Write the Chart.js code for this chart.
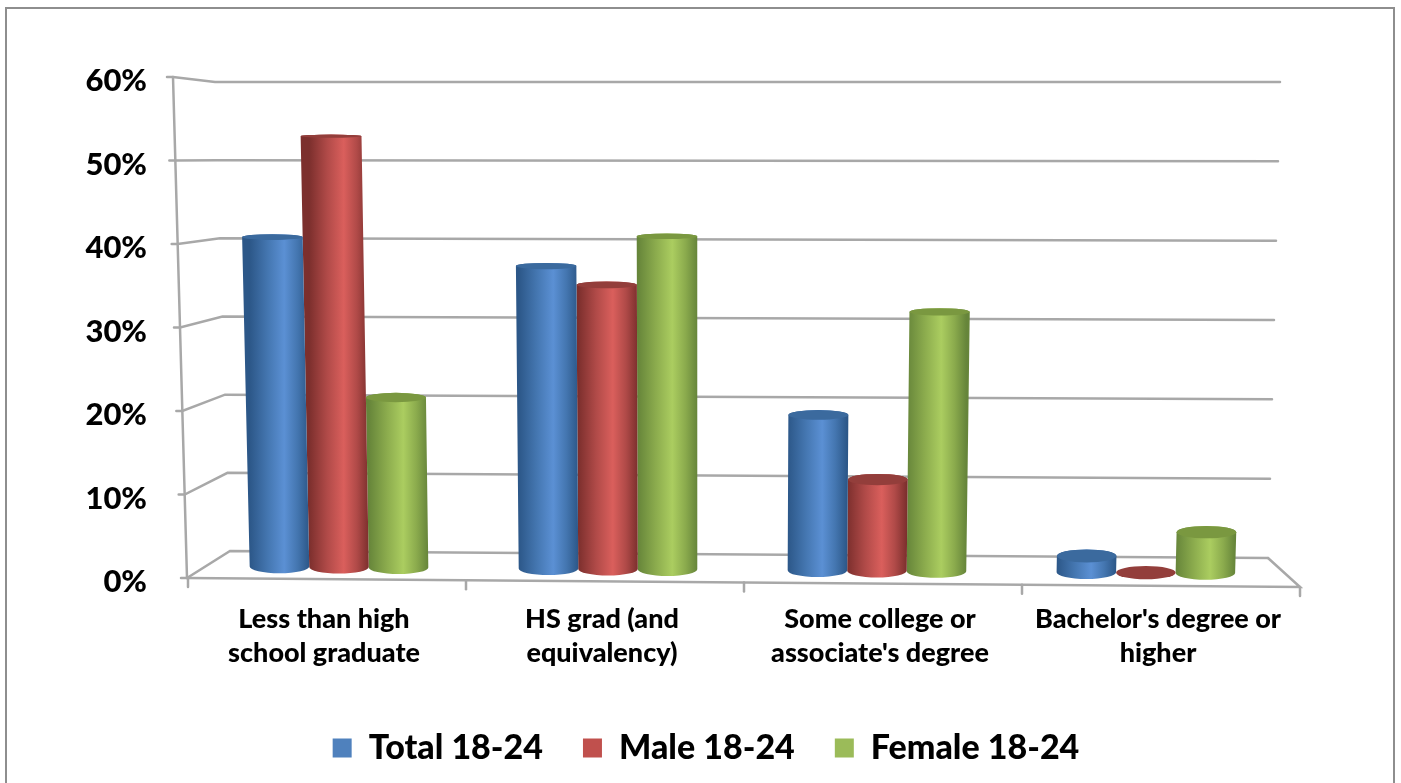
<!DOCTYPE html>
<html>
<head>
<meta charset="utf-8">
<title>Education 18-24</title>
<script src="https://cdn.jsdelivr.net/npm/chart.js"></script>
<style>
  html, body { margin: 0; padding: 0; background: #fff; overflow: hidden; }
  #wrap { position: relative; width: 1401px; height: 783px; }
</style>
</head>
<body>
<div id="wrap"><canvas id="educationChart" width="1401" height="783"></canvas></div>
<script>
// values (percent)
const categories = [
  ['Less than high', 'school graduate'],
  ['HS grad (and', 'equivalency)'],
  ['Some college or', "associate's degree"],
  ["Bachelor's degree or", 'higher']
];
const seriesNames = ['Total 18-24', 'Male 18-24', 'Female 18-24'];
const totalValues = [40.8, 37.3, 19.1, 2];
const maleValues = [53.3, 35, 11.2, 0];
const femaleValues = [21, 41, 31.8, 5];
const seriesColors = ['#4f81bd', '#c0504d', '#9bbb59'];

const axisGrey = '#a8a8a8';

// shading for each cylinder: edge, middle, highlight, cap
const cylinderShades = [
  { edge: '#2c5788', mid: '#4476b0', light: '#5b90d4', cap: '#3b6a9e' },
  { edge: '#7c2f2d', mid: '#b04a48', light: '#da5f5c', cap: '#933e3b' },
  { edge: '#66853a', mid: '#8bab4d', light: '#abcd60', cap: '#7a9840' }
];

// the bars stand on a plane behind the front axis, so map front coordinates to it
function project(area, xf, yf) {
  const t = (yf - area.top) / (area.bottom - area.top);
  const xm = 0.9676 * xf + 22.6;
  const y = 82 + t * (485 + 0.007 * (xm - 340));
  const x = xm + (xm - 700) * 0.000051 * (82 + 485 - y);
  return { x, y };
}

function capHeight(y) {
  return 1 + Math.max(0, y - 80) / 485 * 5.6;
}

function drawCylinder(ctx, area, bar, shade) {
  const half = bar.width / 2;
  const botL = project(area, bar.x - half, bar.base);
  const botR = project(area, bar.x + half, bar.base);
  const topL = project(area, bar.x - half, bar.y);
  const topR = project(area, bar.x + half, bar.y);
  const rxBot = (botR.x - botL.x) / 2;
  const rxTop = (topR.x - topL.x) / 2;
  const cyBot = (botL.y + botR.y) / 2;
  const cyTop = (topL.y + topR.y) / 2;
  const ryBot = capHeight(cyBot);
  const ryTop = capHeight(cyTop);

  if (cyBot - cyTop > 1) {
    const grad = ctx.createLinearGradient(botL.x, 0, botR.x, 0);
    grad.addColorStop(0, shade.edge);
    grad.addColorStop(0.3, shade.mid);
    grad.addColorStop(0.58, shade.light);
    grad.addColorStop(0.8, shade.mid);
    grad.addColorStop(1, shade.edge);
    ctx.fillStyle = grad;
    ctx.beginPath();
    ctx.moveTo(topL.x, topL.y);
    ctx.lineTo(botL.x, botL.y);
    ctx.ellipse(botL.x + rxBot, cyBot, rxBot, ryBot, 0, Math.PI, 0, true);
    ctx.lineTo(topR.x, topR.y);
    ctx.ellipse(topL.x + rxTop, cyTop, rxTop, ryTop, 0, 0, Math.PI, true);
    ctx.closePath();
    ctx.fill();
  }
  ctx.fillStyle = shade.cap;
  ctx.beginPath();
  ctx.ellipse(topL.x + rxTop, cyTop, rxTop, ryTop, 0, 0, Math.PI * 2);
  ctx.fill();
}

const cylinderPlugin = {
  id: 'cylinders',
  beforeDatasetDraw(chart, args) {
    const meta = chart.getDatasetMeta(args.index);
    meta.data.forEach(bar => {
      drawCylinder(chart.ctx, chart.chartArea, bar, cylinderShades[args.index]);
    });
    return false; // flat bars are replaced by the cylinders
  }
};

// outer frame, back wall grid lines, floor and the tilted axes
const wallPlugin = {
  id: 'wall',
  afterLayout(chart) {
    // legend row is centred on the whole page, not on the plot
    chart.legend.top = 691;
    chart.legend.left += 56;
    chart.legend.right += 56;
  },
  beforeDatasetsDraw(chart) {
    const ctx = chart.ctx;
    const area = chart.chartArea;
    const yScale = chart.scales.y;
    const span = area.bottom - area.top;

    ctx.save();
    ctx.lineCap = 'round';
    ctx.strokeStyle = '#8e8e8e';
    ctx.lineWidth = 2;
    ctx.strokeRect(6, 8, 1388, 800);

    ctx.strokeStyle = axisGrey;
    ctx.lineWidth = 2.5;
    yScale.ticks.forEach(tick => {
      const py = yScale.getPixelForValue(tick.value);
      const t = (py - area.top) / span;
      const frontX = 173 + t * 14;
      const backLeftX = 215 + t * 15;
      const backLeftY = 82 + t * 469;
      const backRightX = 1280 - t * 12;
      const backRightY = 82 + t * 476;
      ctx.beginPath();
      ctx.moveTo(frontX - 6, py);
      ctx.lineTo(frontX, py);
      ctx.lineTo(backLeftX, backLeftY);
      ctx.lineTo(backRightX, backRightY);
      ctx.stroke();
    });

    // left axis
    ctx.beginPath();
    ctx.moveTo(173, area.top);
    ctx.lineTo(187, area.bottom);
    ctx.stroke();

    // floor: front edge, right edge and the ticks under it
    ctx.beginPath();
    ctx.moveTo(187, area.bottom);
    ctx.lineTo(area.right, area.bottom + 9);
    ctx.lineTo(1268, 558);
    ctx.stroke();
    for (let i = 0; i <= categories.length; i++) {
      const x = area.left + i * (area.right - area.left) / categories.length;
      const y = area.bottom + 9 * (x - area.left) / (area.right - area.left);
      ctx.beginPath();
      ctx.moveTo(x, y);
      ctx.lineTo(x, y + 9);
      ctx.stroke();
    }
    ctx.restore();
  }
};

const educationCtx = document.getElementById('educationChart');
new Chart(educationCtx, {
  type: 'bar',
  data: {
    labels: categories,
    datasets: [
      { label: seriesNames[0], data: totalValues, backgroundColor: seriesColors[0] },
      { label: seriesNames[1], data: maleValues, backgroundColor: seriesColors[1] },
      { label: seriesNames[2], data: femaleValues, backgroundColor: seriesColors[2] }
    ]
  },
  options: {
    responsive: false,
    animation: false,
    layout: { padding: { top: 77, right: 101, left: 0, bottom: 0 } },
    datasets: { bar: { categoryPercentage: 0.664, barPercentage: 1, borderWidth: 0 } },
    scales: {
      x: {
        afterFit(scale) { scale.height = 121; },
        grid: { display: false },
        border: { display: false },
        ticks: {
          color: '#000',
          padding: 16,
          labelOffset: -3,
          maxRotation: 0,
          autoSkip: false,
          font: { family: 'Lato', size: 27, weight: '900', lineHeight: 1.26 }
        }
      },
      y: {
        min: 0,
        max: 60,
        afterFit(scale) { scale.width = 188; },
        grid: { display: false },
        border: { display: false },
        ticks: {
          stepSize: 10,
          color: '#000',
          padding: 33,
          labelOffset: 4,
          callback: value => value + '%',
          font: { family: 'Lato', size: 31, weight: '900' }
        }
      }
    },
    plugins: {
      legend: {
        position: 'bottom',
        labels: {
          boxWidth: 19,
          boxHeight: 19,
          padding: 40,
          color: '#000',
          font: { family: 'Lato', size: 34, weight: '900' }
        }
      },
      tooltip: { enabled: false }
    }
  },
  plugins: [wallPlugin, cylinderPlugin]
});
</script>
</body>
</html>
